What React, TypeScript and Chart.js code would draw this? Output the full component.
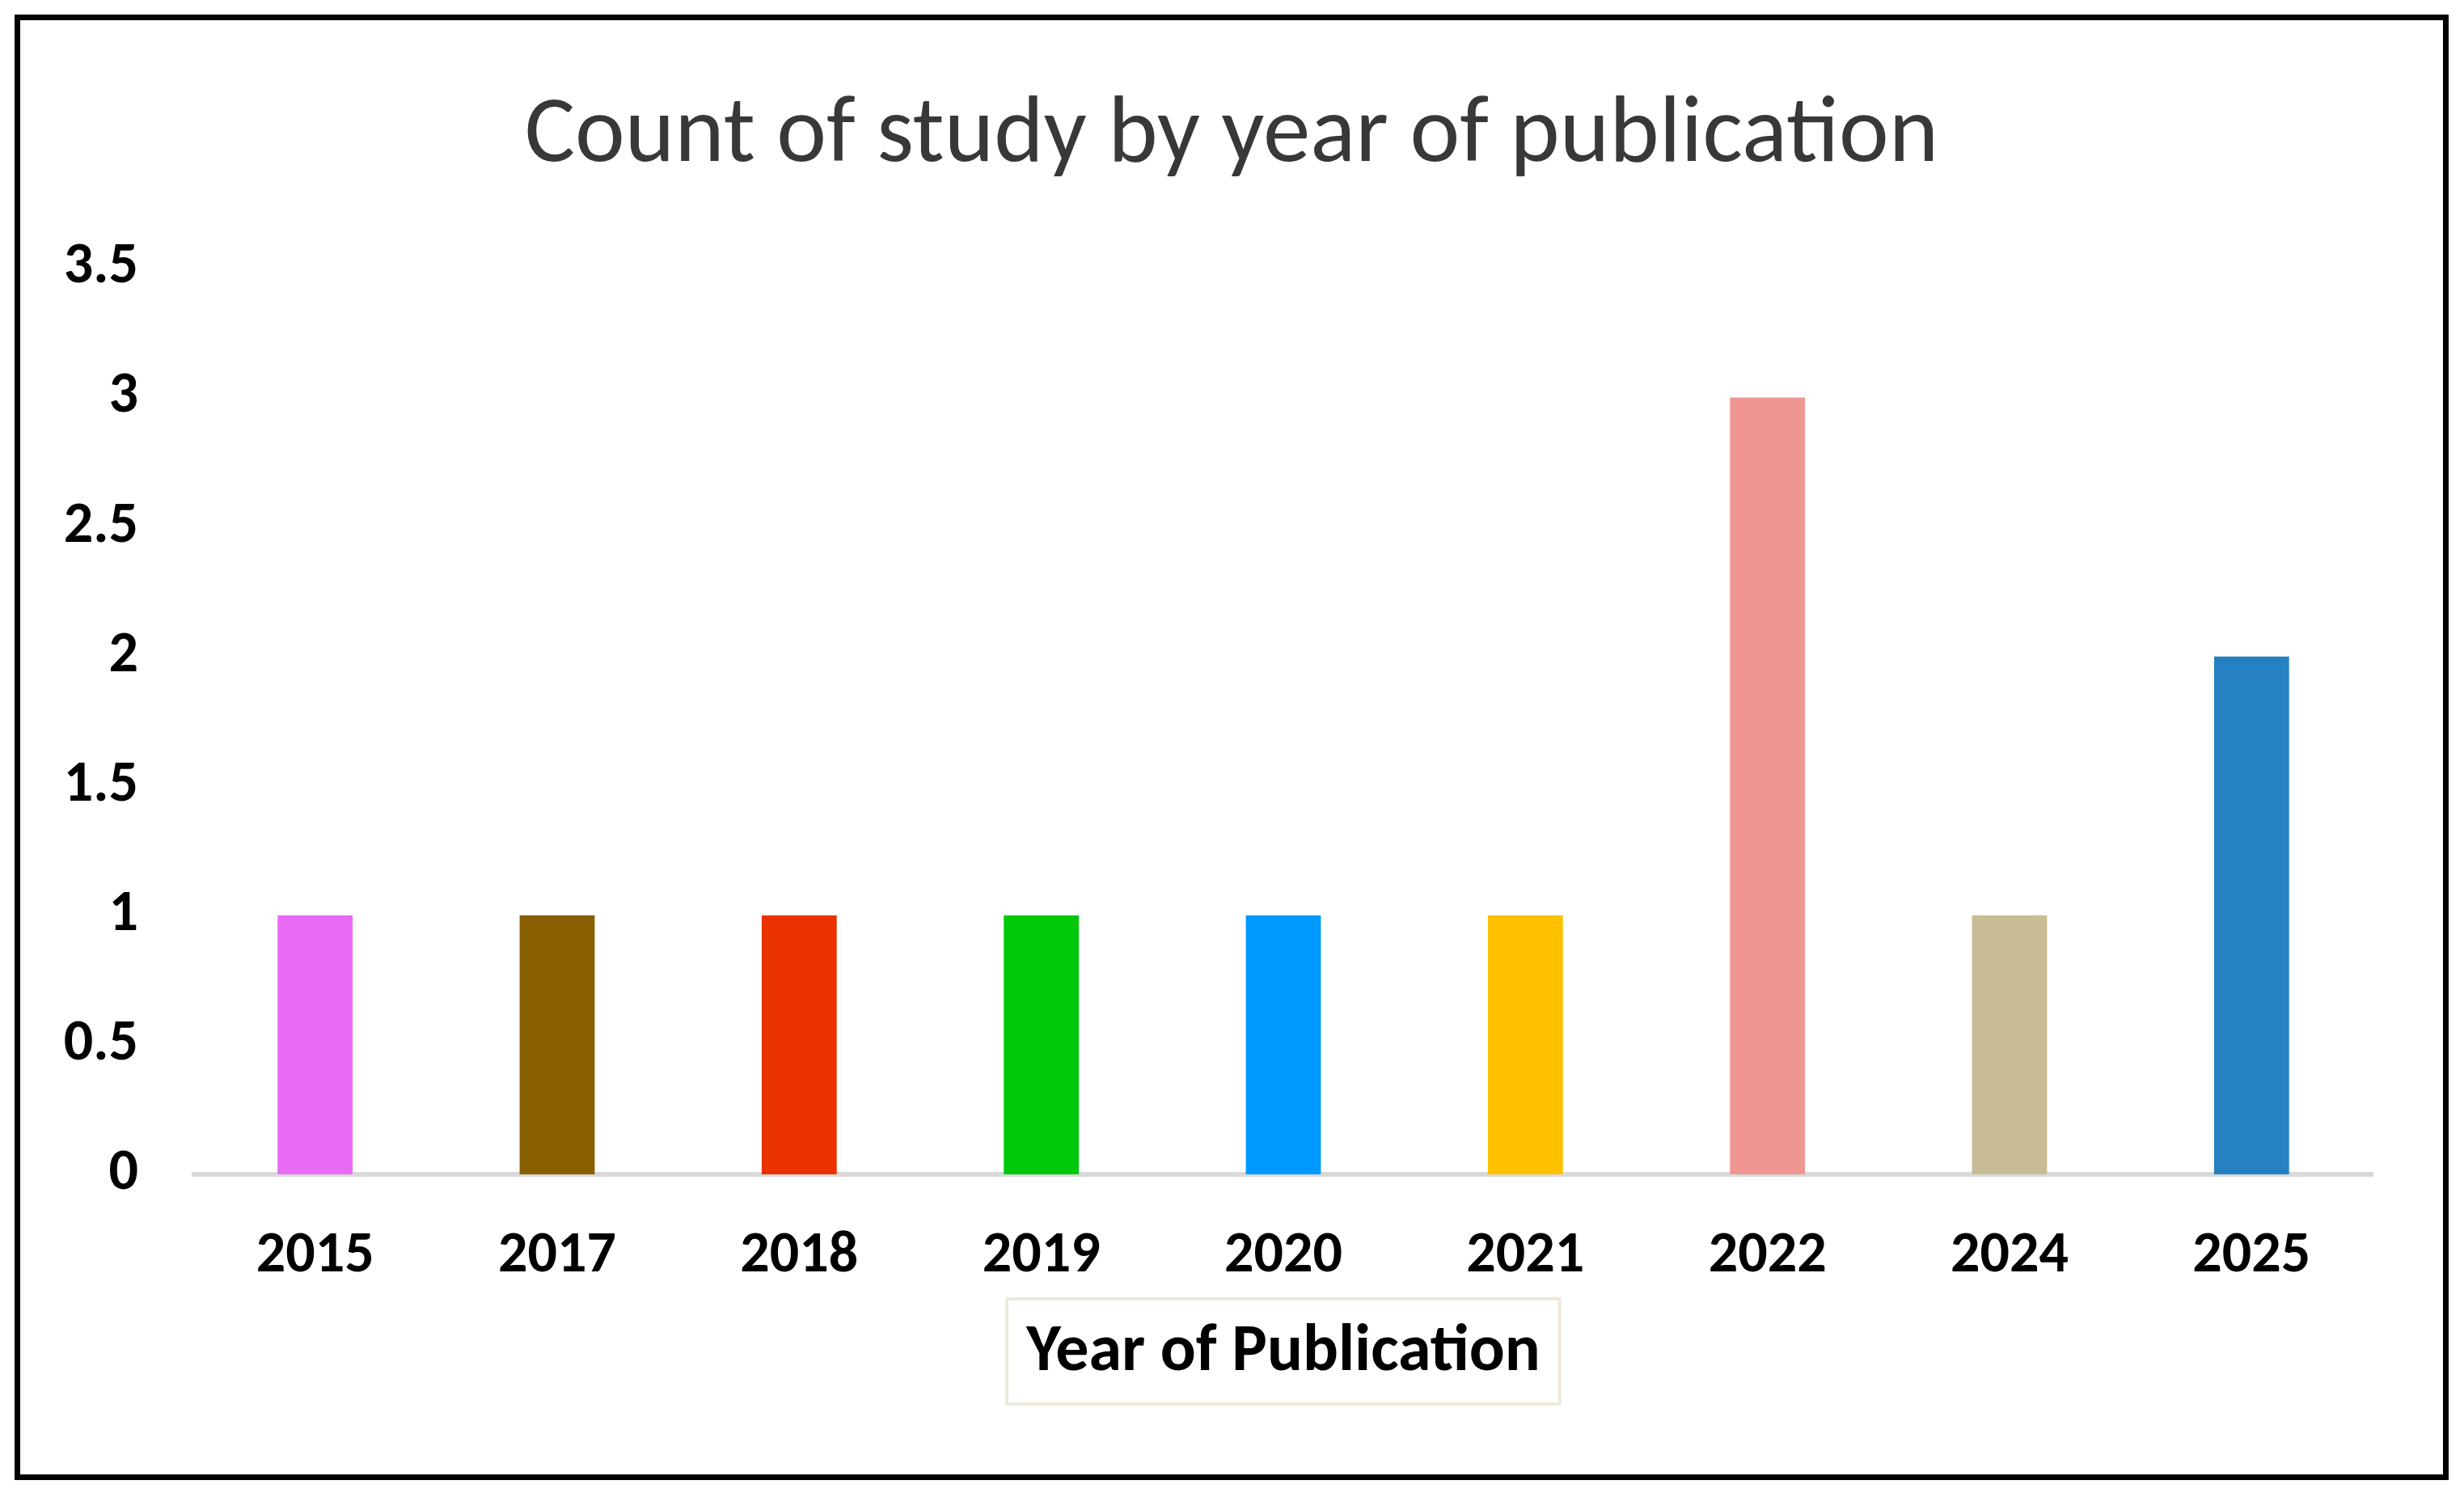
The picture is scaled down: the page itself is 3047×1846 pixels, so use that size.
import { useEffect, useRef } from 'react'
import { Chart, type ChartConfiguration, type Plugin, registerables } from 'chart.js'

Chart.register(...registerables)

const years = ['2015', '2017', '2018', '2019', '2020', '2021', '2022', '2024', '2025']
const studyCounts = [1, 1, 1, 1, 1, 1, 3, 1, 2]
const barColors = [
  '#e86af5',
  '#875e00',
  '#ea3200',
  '#00c80a',
  '#0099ff',
  '#ffc000',
  '#ef9692',
  '#c7bc93',
  '#2581c2',
]
const yMin = 0
const yMax = 3.5
const yStep = 0.5

const FONT = 'Carlito, Lato, "Open Sans", sans-serif'
const AXIS_TITLE_SIZE = 82
const AXIS_TITLE_PAD_BOTTOM = 20

// thin beige frame round the x axis title
const axisTitleBox: Plugin = {
  id: 'axisTitleBox',
  afterDraw(chart) {
    const xs = chart.scales.x
    const opts: any = xs.options
    const ctx = chart.ctx
    const lineHeight = AXIS_TITLE_SIZE * 1.2
    const cy = xs.bottom - AXIS_TITLE_PAD_BOTTOM - lineHeight / 2
    const cx = (xs.left + xs.right) / 2
    ctx.save()
    ctx.font = `bold ${AXIS_TITLE_SIZE}px ${FONT}`
    const w = ctx.measureText(opts.title.text).width
    ctx.strokeStyle = '#eeeadb'
    ctx.lineWidth = 4
    ctx.strokeRect(cx - w / 2 - 24, cy - 68, w + 48, 130)
    ctx.restore()
  },
}

export default function App() {
  const chartRef = useRef<HTMLCanvasElement>(null)
  const chartInstance = useRef<Chart | null>(null)

  useEffect(() => {
    if (!chartRef.current) return
    if (chartInstance.current) chartInstance.current.destroy()

    const ctx = chartRef.current.getContext('2d')
    if (!ctx) return

    const config: ChartConfiguration = {
      type: 'bar',
      data: {
        labels: years,
        datasets: [
          {
            label: 'Count of study',
            data: studyCounts,
            backgroundColor: barColors,
            borderWidth: 0,
            barPercentage: 0.31,
            categoryPercentage: 1,
          },
        ],
      },
      options: {
        responsive: true,
        maintainAspectRatio: false,
        animation: false,
        layout: {
          padding: { top: 0, left: 0, right: 0, bottom: 80 },
        },
        scales: {
          x: {
            grid: { display: false, drawTicks: false },
            border: { display: true, color: '#d9d9d9', width: 6 },
            ticks: {
              color: '#000000',
              padding: 59,
              font: { family: FONT, size: 72, weight: 'bold' },
            },
            title: {
              display: true,
              text: 'Year of Publication',
              color: '#000000',
              font: { family: FONT, size: AXIS_TITLE_SIZE, weight: 'bold' },
              padding: { top: 30, bottom: AXIS_TITLE_PAD_BOTTOM },
            },
            afterFit: (scale) => {
              scale.height = 291
            },
          },
          y: {
            min: yMin,
            max: yMax,
            grid: { display: false, drawTicks: false },
            border: { display: false },
            ticks: {
              stepSize: yStep,
              color: '#000000',
              padding: 69,
              font: { family: FONT, size: 72, weight: 'bold' },
              callback: (value) => String(Number(value)),
            },
            afterFit: (scale) => {
              scale.width = 215
            },
          },
          // empty right-hand axis: only reserves the right margin so the title stays centred
          yRight: {
            type: 'linear',
            position: 'right',
            min: yMin,
            max: yMax,
            grid: { display: false, drawTicks: false },
            border: { display: false },
            ticks: { display: false },
            afterFit: (scale) => {
              scale.width = 87
            },
          },
        },
        plugins: {
          legend: { display: false },
          tooltip: { enabled: false },
          title: {
            display: true,
            text: 'Count of study by year of publication',
            color: '#383838',
            font: { family: FONT, size: 117, weight: 'normal' },
            padding: { top: 75, bottom: 91 },
          },
        },
      },
      plugins: [axisTitleBox],
    }

    chartInstance.current = new Chart(ctx, config)

    return () => {
      if (chartInstance.current) {
        chartInstance.current.destroy()
        chartInstance.current = null
      }
    }
  }, [])

  return (
    <div
      style={{
        position: 'fixed',
        left: 18,
        top: 18,
        width: 3010,
        height: 1812,
        border: '7px solid #000',
        boxSizing: 'border-box',
        background: '#fff',
      }}
    >
      <div style={{ position: 'relative', width: '100%', height: '100%' }}>
        <canvas ref={chartRef} />
      </div>
    </div>
  )
}
